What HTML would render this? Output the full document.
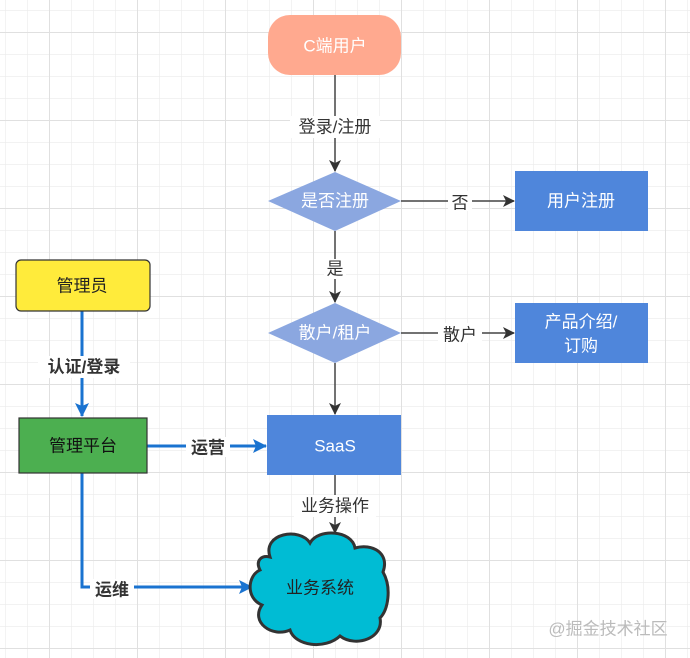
<!DOCTYPE html>
<html><head><meta charset="utf-8"><style>
body{margin:0;background:#fff}
svg{display:block}
text{font-family:"Liberation Sans","Noto Sans CJK SC",sans-serif;font-size:17px;text-anchor:middle;dominant-baseline:central}
</style></head><body>
<svg width="690" height="658" viewBox="0 0 690 658" xmlns="http://www.w3.org/2000/svg">
<defs>
<pattern id="minor" x="5" y="10" width="22" height="22" patternUnits="userSpaceOnUse">
<path d="M0 0V22M0 0H22" stroke="#ebebeb" stroke-width="1.2" fill="none"/>
</pattern>
<pattern id="major" x="49" y="32" width="88" height="88" patternUnits="userSpaceOnUse">
<path d="M0 0V88M0 0H88" stroke="#e0e0e0" stroke-width="2" fill="none"/>
</pattern>
<marker id="ag" markerWidth="12" markerHeight="12" refX="11" refY="6" orient="auto" markerUnits="userSpaceOnUse"><path d="M0 0L12 6L0 12L3 6Z" fill="#333"/></marker>
<marker id="ab" markerWidth="14" markerHeight="14" refX="13" refY="7" orient="auto" markerUnits="userSpaceOnUse"><path d="M0 0L14 7L0 14L3 7Z" fill="#1a73d0"/></marker>
</defs>
<rect width="690" height="658" fill="#fff"/>
<rect width="690" height="658" fill="url(#minor)"/>
<rect width="690" height="658" fill="url(#major)"/>

<g stroke="#444" stroke-width="1.5" fill="none" marker-end="url(#ag)">
<path d="M335 75V171"/>
<path d="M335 231V302"/>
<path d="M401 201H514"/>
<path d="M401 333H514"/>
<path d="M335 363V414"/>
<path d="M335 475V533"/>
</g>
<g stroke="#1a73d0" stroke-width="3" fill="none" marker-end="url(#ab)">
<path d="M82 311V416"/>
<path d="M147 446H266"/>
<path d="M82 473V587H252"/>
</g>

<g fill="#333">
<rect x="290" y="116" width="90" height="22" fill="#fff"/><text x="335" y="127">登录/注册</text>
<rect x="324" y="259" width="22" height="20" fill="#fff"/><text x="335" y="269">是</text>
<rect x="448" y="191" width="24" height="20" fill="#fff"/><text x="460" y="203">否</text>
<rect x="438" y="323" width="44" height="20" fill="#fff"/><text x="460" y="335">散户</text>
<rect x="294" y="495" width="82" height="22" fill="#fff"/><text x="335" y="506">业务操作</text>
<rect x="38" y="356" width="92" height="22" fill="#fff"/><text x="84" y="367" font-weight="bold">认证/登录</text>
<rect x="186" y="437" width="44" height="20" fill="#fff"/><text x="208" y="448" font-weight="bold">运营</text>
<rect x="90" y="579" width="44" height="20" fill="#fff"/><text x="112" y="590" font-weight="bold">运维</text>
</g>

<rect x="268" y="15" width="133" height="60" rx="22" fill="#FFA98F"/>
<text x="335" y="46" fill="#fff" font-size="18">C端用户</text>

<path d="M335 172L401 201L335 231L268 201Z" fill="#8BA7E0"/>
<text x="335" y="201" fill="#fff">是否注册</text>

<rect x="515" y="171" width="133" height="60" fill="#4F86DB"/>
<text x="581" y="201" fill="#fff">用户注册</text>

<path d="M335 303L401 333L335 363L268 333Z" fill="#8BA7E0"/>
<text x="335" y="333" fill="#fff">散户/租户</text>

<rect x="515" y="303" width="133" height="60" fill="#4F86DB"/>
<text x="581" y="322" fill="#fff">产品介绍/</text>
<text x="581" y="346" fill="#fff">订购</text>

<rect x="267" y="415" width="134" height="60" fill="#4F86DB"/>
<text x="335" y="446" fill="#fff" font-size="18">SaaS</text>

<rect x="16" y="260" width="134" height="51" rx="5" fill="#FFEB3B" stroke="#333" stroke-width="1.2"/>
<text x="82" y="286" fill="#222">管理员</text>

<rect x="19" y="418" width="128" height="55" fill="#4CAF50" stroke="#333" stroke-width="1.2"/>
<text x="83" y="446" fill="#111">管理平台</text>

<path d="M270 557C262 533 300 527 310 543C318 528 352 530 355 548C372 543 390 553 383 572C392 588 388 610 380 618C384 638 356 648 340 636C325 650 295 646 290 630C272 638 250 622 262 605C245 598 248 575 260 570C255 560 262 555 270 557Z" fill="#00BCD4" stroke="#333" stroke-width="3"/>
<text x="320" y="588" fill="#222">业务系统</text>

<text x="608" y="629" fill="#bbb" font-size="17">@掘金技术社区</text>
</svg>
</body></html>
